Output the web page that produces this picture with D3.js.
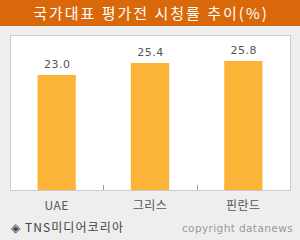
<!DOCTYPE html>
<html>
<head>
<meta charset="utf-8">
<script src="https://cdn.jsdelivr.net/npm/d3@7"></script>
<style>
  body { margin: 0; background: #eeeeee; }
  svg { display: block; }
</style>
</head>
<body>
<div id="chart"></div>
<script>
let w = 300;
let h = 240;

// data
let countries = ["UAE", "그리스", "핀란드"];
let ratings = [23.0, 25.4, 25.8];
let title = "국가대표 평가전 시청률 추이(%)";

let plotLeft = 10, plotRight = 290, plotTop = 35, plotBottom = 190;

let viz = d3.select("#chart")
  .append("svg")
  .attr("width", w)
  .attr("height", h)
  .style("background-color", "#eeeeee");

// title bar
viz.append("rect")
  .attr("x", 0).attr("y", 0)
  .attr("width", w).attr("height", 26)
  .attr("fill", "#d9680a");

viz.append("text")
  .attr("x", w/2 + 1).attr("y", 19)
  .attr("text-anchor", "middle")
  .attr("fill", "white")
  .style("font-family", "'Noto Sans CJK KR', sans-serif")
  .style("font-size", "15px")
  .style("letter-spacing", "2px")
  .text(title);

// plot panel
viz.append("rect")
  .attr("x", plotLeft + 0.5).attr("y", plotTop + 0.5)
  .attr("width", plotRight-plotLeft).attr("height", plotBottom-plotTop)
  .attr("fill", "white")
  .attr("stroke", "#cccccc")
  .attr("stroke-width", 1);

let xScale = d3.scaleBand().domain(countries).range([plotLeft, plotRight]).padding(0);
let yScale = d3.scaleLinear().domain([0, 31]).range([plotBottom, plotTop]);

let barW = xScale.bandwidth() * 0.41;

viz.selectAll(".bar").data(ratings).enter()
  .append("rect")
  .attr("class", "bar")
  .attr("x", function(d, i){ return xScale(countries[i]) + xScale.bandwidth()/2 - barW/2; })
  .attr("y", function(d){ return yScale(d); })
  .attr("width", barW)
  .attr("height", function(d){ return plotBottom - yScale(d); })
  .attr("fill", "#fbb438");

viz.selectAll(".val").data(ratings).enter()
  .append("text")
  .attr("class", "val")
  .attr("x", function(d, i){ return xScale(countries[i]) + xScale.bandwidth()/2 + 0.5; })
  .attr("y", function(d){ return yScale(d) - 7; })
  .attr("text-anchor", "middle")
  .attr("fill", "#555555")
  .style("font-family", "'DejaVu Sans', sans-serif")
  .style("font-size", "11px")
  .style("letter-spacing", "0.5px")
  .text(function(d){ return d.toFixed(1); });

// x axis: ticks between categories
let xAxis = d3.axisBottom(xScale).tickSize(0).tickPadding(11);
let axisG = viz.append("g")
  .attr("transform", "translate(0," + plotBottom + ")")
  .call(xAxis);
axisG.select(".domain").remove();
axisG.selectAll("text")
  .attr("fill", "#555555")
  .style("font-family", "'Noto Sans CJK KR', sans-serif")
  .style("font-size", "12px")
  .style("letter-spacing", "0.5px");

viz.selectAll(".sep").data(countries.slice(1)).enter()
  .append("line")
  .attr("class", "sep")
  .attr("x1", function(d){ return Math.round(xScale(d)) + 0.5; })
  .attr("x2", function(d){ return Math.round(xScale(d)) + 0.5; })
  .attr("y1", plotBottom - 5)
  .attr("y2", plotBottom)
  .attr("stroke", "#999999");

// footer
viz.append("text")
  .attr("x", 11).attr("y", 232)
  .attr("fill", "#444444")
  .style("font-family", "'Noto Sans CJK KR', sans-serif")
  .style("font-size", "12px")
  .style("letter-spacing", "1.1px")
  .text("◈ TNS미디어코리아");

viz.append("text")
  .attr("x", 293).attr("y", 232)
  .attr("text-anchor", "end")
  .attr("fill", "#999999")
  .style("font-family", "'DejaVu Sans', sans-serif")
  .style("font-size", "10.5px")
  .style("letter-spacing", "0.4px")
  .text("copyright datanews");
</script>
</body>
</html>
